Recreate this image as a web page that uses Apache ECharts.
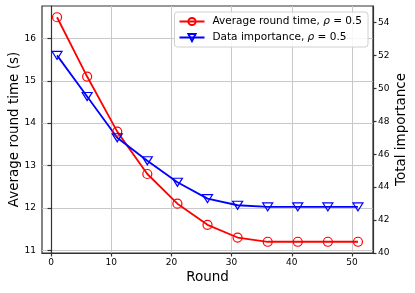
<!DOCTYPE html>
<html>
<head>
<meta charset="utf-8">
<script src="https://cdn.jsdelivr.net/npm/echarts@6/dist/echarts.min.js"></script>
<style>html,body{margin:0;padding:0;background:#fff;}#c{width:415px;height:293px;}</style>
</head>
<body>
<div id="c"></div>
<script>
const rounds = [1, 6, 11, 16, 21, 26, 31, 36, 41, 46, 51];
const avgRoundTime = [16.5, 15.1, 13.8, 12.8, 12.1, 11.6, 11.3, 11.2, 11.2, 11.2, 11.2];
const dataImportance = [52.0, 49.5, 47.0, 45.6, 44.3, 43.3, 42.9, 42.8, 42.8, 42.8, 42.8];
const xTicks = [0, 10, 20, 30, 40, 50];
const leftTicks = [11, 12, 13, 14, 15, 16];
const rightTicks = [40, 42, 44, 46, 48, 50, 52, 54];
const seriesNames = ['Average round time, ρ = 0.5', 'Data importance, ρ = 0.5'];

const FONT = 'DejaVu Sans';
const axisLineStyle = {color: '#333', width: 1.2};
const chart = echarts.init(document.getElementById('c'), null, {renderer: 'canvas'});
const tri = 'path://M0,0 L10,0 L5,8.5 Z';

chart.setOption({
  animation: false,
  backgroundColor: '#fff',
  grid: {left: 42, right: 42, top: 6, bottom: 40, containLabel: false, outerBoundsMode: 'none',
    show: true, borderColor: '#333', borderWidth: 1.2, backgroundColor: 'transparent'},
  legend: {
    orient: 'vertical', right: 47, top: 12,
    backgroundColor: 'rgba(255,255,255,0.85)', borderColor: '#d0d0d0', borderWidth: 1, borderRadius: 3,
    padding: [4, 6, 4, 4], itemGap: 5, itemWidth: 25, itemHeight: 9,
    textStyle: {fontFamily: FONT, fontSize: 10.5, color: '#000', padding: [0, 0, 0, 3],
      rich: {t: {fontFamily: FONT, fontSize: 10.5, color: '#000'}, i: {fontFamily: FONT, fontSize: 10.5, fontStyle: 'italic', color: '#000'}}},
    formatter: function (n) {
      const parts = n.split('ρ');
      return '{t|' + parts[0] + '}{i|ρ}{t|' + parts[1] + '}';
    },
    data: seriesNames
  },
  xAxis: {
    type: 'value', min: -1.5, max: 53.5,
    name: 'Round', nameLocation: 'middle', nameGap: 17, nameMoveOverlap: false,
    nameTextStyle: {fontFamily: FONT, fontSize: 13.5, color: '#000'},
    axisLine: {show: true, lineStyle: axisLineStyle},
    axisTick: {show: true, length: 3.5, lineStyle: axisLineStyle, customValues: xTicks},
    axisLabel: {fontFamily: FONT, fontSize: 9, color: '#000', margin: 5, customValues: xTicks},
    splitLine: {show: true, lineStyle: {color: '#c8c8c8', width: 1}}
  },
  yAxis: [{
    type: 'value', min: 10.935, max: 16.765, position: 'left',
    name: 'Average round time (s)', nameLocation: 'middle', nameGap: 21, nameMoveOverlap: false,
    nameTextStyle: {fontFamily: FONT, fontSize: 13.5, color: '#000'},
    axisLine: {show: true, lineStyle: axisLineStyle},
    axisTick: {show: true, length: 3.5, lineStyle: axisLineStyle, customValues: leftTicks},
    axisLabel: {fontFamily: FONT, fontSize: 9, color: '#000', margin: 6, customValues: leftTicks},
    splitLine: {show: true, lineStyle: {color: '#c8c8c8', width: 1}}
  }, {
    type: 'value', min: 40, max: 55, position: 'right',
    name: 'Total importance', nameLocation: 'middle', nameGap: 21, nameMoveOverlap: false,
    nameTextStyle: {fontFamily: FONT, fontSize: 13.5, color: '#000'},
    axisLine: {show: true, lineStyle: axisLineStyle},
    axisTick: {show: true, length: 3.5, lineStyle: axisLineStyle, customValues: rightTicks},
    axisLabel: {fontFamily: FONT, fontSize: 9, color: '#000', margin: 5, customValues: rightTicks},
    splitLine: {show: false}
  }],
  series: [{
    name: seriesNames[0], type: 'line', yAxisIndex: 0,
    data: rounds.map((r, i) => [r, avgRoundTime[i]]),
    smooth: false,
    lineStyle: {color: '#ff0000', width: 1.8},
    symbol: 'circle', symbolSize: 9, showAllSymbol: true,
    itemStyle: {color: 'rgba(255,255,255,0)', borderColor: '#ff0000', borderWidth: 1.2},
    emphasis: {disabled: true}
  }, {
    name: seriesNames[1], type: 'line', yAxisIndex: 1,
    data: rounds.map((r, i) => [r, dataImportance[i]]),
    smooth: false,
    lineStyle: {color: '#0000ff', width: 1.8},
    symbol: tri, symbolSize: [10, 8], showAllSymbol: true,
    itemStyle: {color: 'rgba(255,255,255,0)', borderColor: '#0000ff', borderWidth: 1.2},
    emphasis: {disabled: true}
  }]
});
</script>
</body>
</html>
